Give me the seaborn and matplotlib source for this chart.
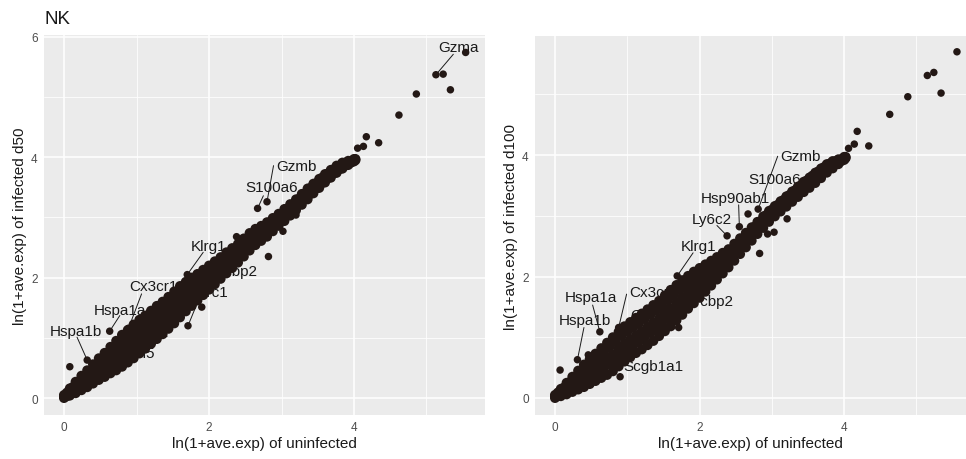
import pandas as pd
import seaborn as sns
import matplotlib.pyplot as plt

# NK cells: mean expression, ln(1 + ave.exp), infected vs uninfected
# dense diagonal band read as five rails (outer rails on grid_x, inner ones staggered), plus single outliers
grid_x = [0.00, 0.08, 0.16, 0.24, 0.32, 0.40, 0.48, 0.56, 0.64, 0.72, 0.80, 0.88, 0.96,
          1.04, 1.12, 1.20, 1.28, 1.36, 1.44, 1.52, 1.60, 1.68, 1.76, 1.84, 1.92, 2.00,
          2.08, 2.16, 2.24, 2.32, 2.40, 2.48, 2.56, 2.64, 2.72, 2.80, 2.88, 2.96, 3.04,
          3.12, 3.20, 3.28, 3.36, 3.44, 3.52, 3.60, 3.68, 3.76, 3.84, 3.92, 4.00]
grid_x_half = [0.04, 0.12, 0.20, 0.28, 0.36, 0.44, 0.52, 0.60, 0.68, 0.76, 0.84, 0.92, 1.00,
               1.08, 1.16, 1.24, 1.32, 1.40, 1.48, 1.56, 1.64, 1.72, 1.80, 1.88, 1.96, 2.04,
               2.12, 2.20, 2.28, 2.36, 2.44, 2.52, 2.60, 2.68, 2.76, 2.84, 2.92, 3.00, 3.08,
               3.16, 3.24, 3.32, 3.40, 3.48, 3.56, 3.64, 3.72, 3.80, 3.88, 3.96, 4.02]

# infected d50
d50_lo = [0.00, 0.04, 0.08, 0.13, 0.18, 0.24, 0.30, 0.35, 0.41, 0.46, 0.52, 0.59, 0.66,
          0.74, 0.82, 0.90, 0.98, 1.06, 1.15, 1.24, 1.34, 1.44, 1.53, 1.62, 1.71, 1.80,
          1.89, 1.98, 2.07, 2.16, 2.25, 2.35, 2.45, 2.54, 2.61, 2.68, 2.77, 2.86, 2.94,
          3.03, 3.12, 3.21, 3.30, 3.40, 3.49, 3.58, 3.66, 3.74, 3.81, 3.87, 3.93]
d50_q1 = [0.03, 0.09, 0.15, 0.21, 0.28, 0.35, 0.42, 0.48, 0.55, 0.62, 0.69, 0.76, 0.84,
          0.92, 1.00, 1.08, 1.16, 1.24, 1.33, 1.42, 1.51, 1.60, 1.69, 1.77, 1.86, 1.94,
          2.03, 2.11, 2.20, 2.29, 2.38, 2.47, 2.56, 2.64, 2.71, 2.78, 2.87, 2.95, 3.04,
          3.12, 3.21, 3.30, 3.39, 3.48, 3.57, 3.65, 3.73, 3.80, 3.86, 3.91, 3.95]
d50_mid = [0.03, 0.10, 0.18, 0.25, 0.32, 0.40, 0.48, 0.55, 0.63, 0.71, 0.79, 0.86, 0.94,
           1.02, 1.10, 1.18, 1.26, 1.33, 1.42, 1.51, 1.60, 1.69, 1.77, 1.84, 1.92, 2.00,
           2.08, 2.16, 2.24, 2.32, 2.40, 2.50, 2.60, 2.68, 2.74, 2.80, 2.88, 2.96, 3.04,
           3.12, 3.21, 3.30, 3.39, 3.48, 3.57, 3.65, 3.73, 3.80, 3.86, 3.91, 3.95]
d50_q3 = [0.09, 0.18, 0.27, 0.35, 0.44, 0.53, 0.62, 0.71, 0.80, 0.89, 0.97, 1.05, 1.13,
          1.20, 1.28, 1.36, 1.43, 1.51, 1.60, 1.69, 1.78, 1.85, 1.92, 1.99, 2.06, 2.14,
          2.21, 2.29, 2.37, 2.45, 2.53, 2.63, 2.71, 2.78, 2.84, 2.90, 2.98, 3.06, 3.14,
          3.22, 3.31, 3.40, 3.49, 3.57, 3.66, 3.73, 3.80, 3.86, 3.91, 3.94, 3.97]
d50_hi = [0.05, 0.16, 0.27, 0.37, 0.46, 0.56, 0.66, 0.75, 0.85, 0.95, 1.05, 1.13, 1.22,
          1.30, 1.37, 1.45, 1.53, 1.60, 1.68, 1.77, 1.86, 1.93, 2.00, 2.06, 2.13, 2.20,
          2.27, 2.34, 2.42, 2.49, 2.56, 2.65, 2.74, 2.81, 2.86, 2.92, 2.99, 3.06, 3.14,
          3.22, 3.30, 3.39, 3.48, 3.56, 3.64, 3.72, 3.79, 3.86, 3.91, 3.94, 3.97]
d50_out_x = [5.54, 5.13, 5.23, 5.33, 4.86, 4.62, 4.17, 4.05, 4.13, 4.34, 2.67, 2.80,
             3.20, 3.02, 2.82, 2.38, 1.70, 1.90, 1.71, 0.63, 0.32, 0.08, 0.89]
d50_out_y = [5.74, 5.37, 5.38, 5.12, 5.05, 4.70, 4.34, 4.15, 4.18, 4.24, 3.15, 3.26,
             3.04, 2.77, 2.35, 2.68, 2.05, 1.51, 1.20, 1.11, 0.63, 0.52, 1.16]

# infected d100
d100_lo = [0.00, 0.03, 0.06, 0.10, 0.14, 0.18, 0.23, 0.28, 0.33, 0.38, 0.44, 0.52, 0.60,
           0.67, 0.74, 0.80, 0.87, 0.94, 1.02, 1.10, 1.18, 1.28, 1.37, 1.47, 1.56, 1.65,
           1.75, 1.85, 1.95, 2.05, 2.15, 2.26, 2.37, 2.48, 2.59, 2.70, 2.80, 2.90, 2.99,
           3.07, 3.15, 3.23, 3.31, 3.39, 3.46, 3.54, 3.62, 3.71, 3.78, 3.85, 3.92]
d100_q1 = [0.03, 0.08, 0.13, 0.19, 0.25, 0.31, 0.37, 0.43, 0.50, 0.56, 0.63, 0.71, 0.79,
           0.86, 0.93, 1.00, 1.07, 1.14, 1.21, 1.30, 1.39, 1.48, 1.57, 1.66, 1.74, 1.83,
           1.92, 2.01, 2.10, 2.19, 2.29, 2.39, 2.49, 2.60, 2.71, 2.81, 2.91, 3.00, 3.08,
           3.16, 3.24, 3.32, 3.40, 3.48, 3.56, 3.64, 3.71, 3.79, 3.85, 3.90, 3.95]
d100_mid = [0.03, 0.09, 0.16, 0.23, 0.30, 0.37, 0.44, 0.51, 0.58, 0.65, 0.72, 0.81, 0.89,
            0.96, 1.03, 1.10, 1.17, 1.24, 1.31, 1.40, 1.48, 1.57, 1.66, 1.74, 1.82, 1.90,
            1.98, 2.06, 2.14, 2.22, 2.30, 2.40, 2.50, 2.60, 2.70, 2.80, 2.90, 2.99, 3.08,
            3.16, 3.24, 3.32, 3.40, 3.48, 3.55, 3.63, 3.70, 3.78, 3.84, 3.89, 3.95]
d100_q3 = [0.09, 0.17, 0.26, 0.35, 0.43, 0.52, 0.60, 0.68, 0.77, 0.85, 0.93, 1.02, 1.09,
           1.16, 1.23, 1.30, 1.37, 1.44, 1.52, 1.61, 1.69, 1.78, 1.86, 1.93, 2.01, 2.07,
           2.14, 2.21, 2.28, 2.36, 2.44, 2.53, 2.63, 2.72, 2.82, 2.91, 3.01, 3.10, 3.18,
           3.26, 3.34, 3.42, 3.50, 3.58, 3.66, 3.73, 3.80, 3.86, 3.90, 3.93, 3.97]
d100_hi = [0.05, 0.15, 0.25, 0.35, 0.45, 0.55, 0.64, 0.73, 0.82, 0.91, 1.00, 1.09, 1.18,
           1.25, 1.32, 1.39, 1.46, 1.53, 1.60, 1.69, 1.78, 1.86, 1.94, 2.01, 2.08, 2.14,
           2.20, 2.26, 2.32, 2.39, 2.45, 2.54, 2.63, 2.72, 2.81, 2.90, 2.99, 3.08, 3.16,
           3.24, 3.32, 3.40, 3.48, 3.56, 3.63, 3.71, 3.78, 3.85, 3.90, 3.93, 3.97]
d100_out_x = [5.56, 5.15, 5.24, 5.34, 4.88, 4.63, 4.18, 4.14, 4.06, 4.34, 2.81, 2.67, 2.55, 2.38,
              3.21, 3.03, 2.94, 2.83, 2.17, 1.69, 1.71, 0.62, 0.31, 0.07, 0.88, 0.90, 0.46, 1.08]
d100_out_y = [5.70, 5.31, 5.36, 5.02, 4.96, 4.67, 4.39, 4.18, 4.11, 4.15, 3.11, 3.03, 2.82, 2.67,
              2.95, 2.73, 2.70, 2.38, 1.88, 2.01, 1.16, 1.09, 0.63, 0.46, 1.16, 0.35, 0.71, 0.71]

# labelled genes: name, gene point
d50_genes = [('Gzma', 5.13, 5.37), ('Gzmb', 2.80, 3.26), ('S100a6', 2.67, 3.15),
             ('Klrg1', 1.70, 2.05), ('Pcbp2', None, None), ('Klrc1', 1.71, 1.20),
             ('Cx3cr1', 0.89, 1.16), ('Hspa1a', 0.63, 1.11), ('Hspa1b', 0.32, 0.63),
             ('Ly6a', None, None), ('Ccl5', None, None)]
d100_genes = [('Gzmb', 2.81, 3.11), ('S100a6', None, None), ('Hsp90ab1', 2.55, 2.82),
              ('Ly6c2', 2.38, 2.67), ('Klrg1', 1.69, 2.01), ('Cx3cr1', 0.88, 1.16),
              ('Pcbp2', 1.71, 1.16), ('Hspa1a', 0.62, 1.09), ('Hspa1b', 0.31, 0.63),
              ('Ccl5', None, None), ('Ccl3', None, None), ('Scgb1a1', None, None)]

# repelled label placement (text centre, segment start)
d50_place = {'Gzma': (5.44, 5.83, 5.37, 5.71), 'Gzmb': (3.21, 3.86, 2.89, 3.86),
             'S100a6': (2.86, 3.50, 2.75, 3.36), 'Klrg1': (1.99, 2.52, 1.92, 2.42),
             'Pcbp2': (2.37, 2.11, None, None), 'Klrc1': (2.03, 1.76, 1.88, 1.70),
             'Cx3cr1': (1.24, 1.86, 1.07, 1.73), 'Hspa1a': (0.77, 1.46, 0.77, 1.37),
             'Hspa1b': (0.17, 1.11, 0.18, 1.01), 'Ly6a': (1.21, 1.10, None, None),
             'Ccl5': (1.04, 0.75, None, None)}
d100_place = {'Gzmb': (3.39, 3.98, 3.08, 3.98), 'S100a6': (3.04, 3.61, None, None),
              'Hsp90ab1': (2.50, 3.29, 2.54, 3.18), 'Ly6c2': (2.17, 2.94, 2.24, 2.84),
              'Klrg1': (1.99, 2.50, 1.91, 2.39), 'Cx3cr1': (1.36, 1.74, 0.99, 1.71),
              'Pcbp2': (2.17, 1.59, 1.78, 1.53), 'Hspa1a': (0.50, 1.66, 0.52, 1.53),
              'Hspa1b': (0.41, 1.29, 0.40, 1.16), 'Ccl5': (1.25, 1.36, None, None),
              'Ccl3': (1.16, 0.94, None, None), 'Scgb1a1': (1.36, 0.53, None, None)}

POINT = '#231815'
TEXT = '#1a1a1a'


def panel_frame(lo, q1, mid, q3, hi, out_x, out_y):
    # the band stands for thousands of overlapping genes, so its markers are drawn a bit larger
    xs = grid_x * 3 + grid_x_half * 2 + out_x
    ys = lo + mid + hi + q1 + q3 + out_y
    kind = ['band'] * (len(xs) - len(out_x)) + ['single'] * len(out_x)
    return pd.DataFrame({'x': xs, 'y': ys, 'kind': kind})


def draw_panel(ax, df, genes, place, ylabel, xlim, ylim, yticks):
    for name, gx, gy in genes:
        tx, ty, sx, sy = place[name]
        ax.text(tx, ty, name, ha='center', va='center', fontsize=11, color=TEXT, zorder=2)
        if sx is not None:
            ax.plot([sx, gx], [sy, gy], color=TEXT, lw=0.7, zorder=2)
    sns.scatterplot(data=df, x='x', y='y', size='kind', sizes={'band': 52, 'single': 29},
                    ax=ax, color=POINT, linewidth=0, zorder=3, legend=False)
    ax.set_xlim(*xlim)
    ax.set_ylim(*ylim)
    ax.set_xticks([0, 2, 4])
    ax.set_xticks([1, 3, 5], minor=True)
    ax.set_yticks(yticks)
    ax.set_yticks([1, 3, 5], minor=True)
    ax.grid(which='major', color='white', lw=1.1)
    ax.grid(which='minor', color='white', lw=0.55)
    ax.set_axisbelow(True)
    ax.tick_params(which='major', length=3, width=0.8, color='#333333',
                   labelsize=8.5, labelcolor='#4D4D4D', pad=1.5)
    ax.tick_params(which='minor', length=0)
    for s in ax.spines.values():
        s.set_visible(False)
    ax.set_xlabel('ln(1+ave.exp) of uninfected', fontsize=11, color=TEXT, labelpad=2)
    ax.set_ylabel(ylabel, fontsize=11, color=TEXT, labelpad=3)


sns.set_theme(style='darkgrid', rc={'axes.facecolor': '#EBEBEB', 'figure.facecolor': 'white'})
plt.rcParams['font.family'] = ['Liberation Sans', 'DejaVu Sans']

fig = plt.figure(figsize=(9.66, 4.6), dpi=100)
ax1 = fig.add_axes([44 / 966, 44 / 460, 441 / 966, 380 / 460])
ax2 = fig.add_axes([535 / 966, 44 / 460, 431 / 966, 379 / 460])

df50 = panel_frame(d50_lo, d50_q1, d50_mid, d50_q3, d50_hi, d50_out_x, d50_out_y)
df100 = panel_frame(d100_lo, d100_q1, d100_mid, d100_q3, d100_hi, d100_out_x, d100_out_y)

draw_panel(ax1, df50, d50_genes, d50_place, 'ln(1+ave.exp) of infected d50',
           (-0.276, 5.807), (-0.282, 6.03), [0, 2, 4, 6])
draw_panel(ax2, df100, d100_genes, d100_place, 'ln(1+ave.exp) of infected d100',
           (-0.277, 5.685), (-0.28, 5.96), [0, 2, 4])

fig.text(44 / 966, 1 - 19 / 460, 'NK', fontsize=13.5, color=TEXT, ha='left', va='center')

plt.savefig('out.png', dpi=100)
plt.close()
